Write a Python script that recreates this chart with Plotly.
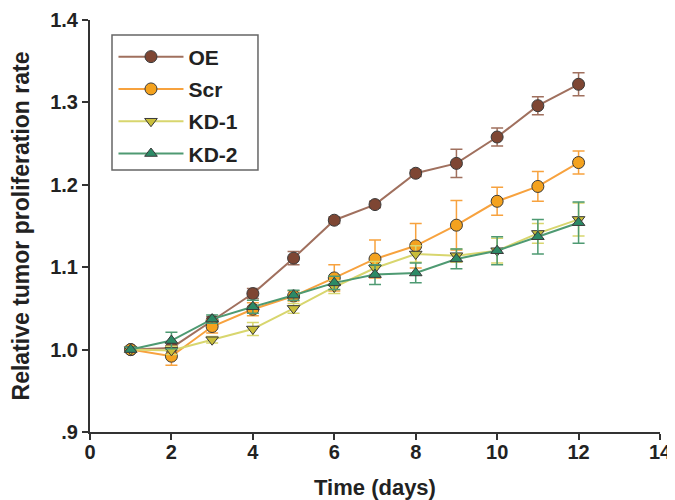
import plotly.graph_objects as go

days = [1, 2, 3, 4, 5, 6, 7, 8, 9, 10, 11, 12]

oe = [1.000, 1.002, 1.035, 1.068, 1.111, 1.157, 1.176, 1.214, 1.226, 1.258, 1.296, 1.322]
oe_err = [0.003, 0.003, 0.005, 0.006, 0.008, 0.004, 0.004, 0.004, 0.017, 0.011, 0.011, 0.014]

scr = [1.000, 0.992, 1.028, 1.049, 1.065, 1.087, 1.110, 1.126, 1.151, 1.180, 1.198, 1.227]
scr_err = [0.003, 0.011, 0.008, 0.008, 0.006, 0.016, 0.023, 0.027, 0.030, 0.017, 0.018, 0.014]

kd1 = [1.000, 0.999, 1.012, 1.025, 1.050, 1.076, 1.099, 1.116, 1.114, 1.120, 1.141, 1.158]
kd1_err = [0.003, 0.005, 0.004, 0.008, 0.006, 0.008, 0.008, 0.010, 0.008, 0.015, 0.012, 0.020]

kd2 = [1.000, 1.011, 1.037, 1.052, 1.066, 1.081, 1.091, 1.093, 1.110, 1.120, 1.137, 1.154]
kd2_err = [0.003, 0.010, 0.005, 0.008, 0.006, 0.008, 0.012, 0.012, 0.012, 0.017, 0.021, 0.025]

names = ["OE", "Scr", "KD-1", "KD-2"]
series = [oe, scr, kd1, kd2]
errors = [oe_err, scr_err, kd1_err, kd2_err]
line_colors = ["#A0705E", "#F7A23E", "#D8D66E", "#4E9A72"]
marker_colors = ["#7E4633", "#F4A21E", "#C9BE3A", "#2C8A66"]
symbols = ["circle", "circle", "triangle-down", "triangle-up"]
sizes = [12, 12, 11, 11]

x_ticks = [0, 2, 4, 6, 8, 10, 12, 14]
y_ticks = [0.9, 1.0, 1.1, 1.2, 1.3, 1.4]
y_ticktext = [".9", "1.0", "1.1", "1.2", "1.3", "1.4"]

fig = go.Figure()
for i in range(4):
    fig.add_trace(go.Scatter(
        x=days, y=series[i], name=names[i], mode="lines+markers",
        legendgroup=names[i],
        line=dict(color=line_colors[i], width=2),
        marker=dict(symbol=symbols[i], size=sizes[i], color=marker_colors[i],
                    line=dict(color="#3A3A3A", width=1)),
        error_y=dict(type="data", array=errors[i], color=line_colors[i],
                     thickness=1.5, width=6),
    ))

# legend frame (the legend box in the reference is wider than Plotly's auto-size)
fig.add_shape(type="rect", xref="paper", yref="paper",
              x0=0.0386, x1=0.2947, y0=0.636, y1=0.9636,
              line=dict(color="#666666", width=1.5), fillcolor="white", layer="below")

font_fam = "Liberation Sans, Arial, sans-serif"
fig.update_layout(
    width=675, height=500,
    margin=dict(l=82, r=23, t=12, b=76),
    paper_bgcolor="white", plot_bgcolor="white",
    font=dict(family=font_fam, size=20, color="#222222", weight="bold"),
    showlegend=True,
    legend=dict(
        x=0.0412, y=0.960, xanchor="left", yanchor="top",
        borderwidth=0, bgcolor="rgba(0,0,0,0)",
        font=dict(family=font_fam, size=21, color="#222222", weight="bold"),
        tracegroupgap=2, traceorder="grouped", itemwidth=65,
    ),
    xaxis=dict(
        range=[0, 14], tickvals=x_ticks, showgrid=False, zeroline=False,
        showline=True, linecolor="#333333", linewidth=2,
        ticks="outside", ticklen=6, tickwidth=2, tickcolor="#333333",
        tickfont=dict(size=20, weight="bold"), automargin=False,
        ticklabelstandoff=-5,
        title=dict(text="Time (days)", font=dict(size=22, weight="bold"), standoff=18),
    ),
    yaxis=dict(
        range=[0.9, 1.4], tickvals=y_ticks, ticktext=y_ticktext,
        showgrid=False, zeroline=False,
        showline=True, linecolor="#333333", linewidth=2,
        ticks="outside", ticklen=6, tickwidth=2, tickcolor="#333333",
        tickfont=dict(size=20, weight="bold"), automargin=False,
        title=dict(text="Relative tumor proliferation rate", font=dict(size=23, weight="bold"), standoff=21),
    ),
)

fig.write_html("out.html")
